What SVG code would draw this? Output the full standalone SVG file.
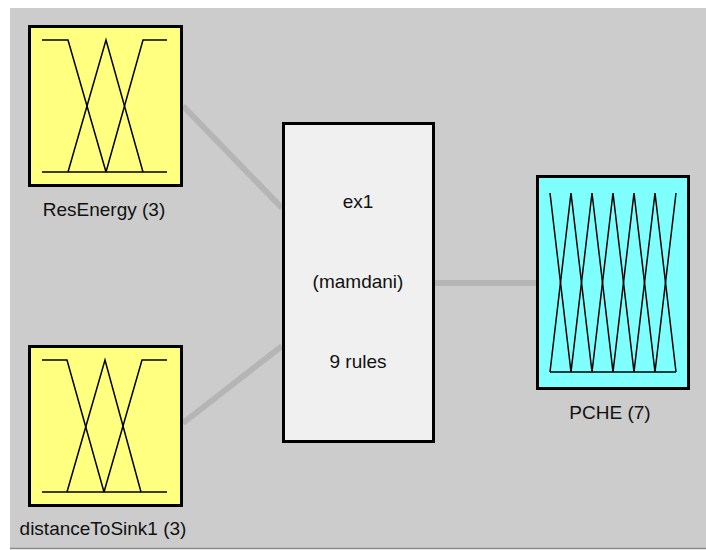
<svg xmlns="http://www.w3.org/2000/svg" width="706" height="550" viewBox="0 0 706 550">
<style>
.lbl{font-family:"Liberation Sans",Arial,sans-serif;font-size:19px;fill:#111;text-anchor:middle}
.box{stroke:#000;stroke-width:3}
.mf{fill:none;stroke:#000;stroke-width:1.5;stroke-linejoin:miter}
.conn{stroke:#b5b5b5;stroke-width:6;fill:none}
</style>
<rect x="0" y="0" width="706" height="550" fill="#ffffff"/>
<rect x="10" y="8" width="696" height="540" fill="#cccccc"/>
<line x1="10" y1="548.5" x2="706" y2="548.5" stroke="#8a8a8a" stroke-width="1.5"/>
<g id="connectors">
<line class="conn" x1="183" y1="106" x2="282" y2="208"/>
<line class="conn" x1="183" y1="423" x2="282" y2="346"/>
<line class="conn" x1="435" y1="283" x2="536" y2="283"/>
</g>
<g id="ResEnergy">
<rect class="box" x="29.5" y="26.5" width="152" height="159" fill="#ffff80"/>
<polyline class="mf" points="42,40 68,40 106,172"/>
<polyline class="mf" points="68,172 106,40 143,172"/>
<polyline class="mf" points="106,172 143,40 167,40"/>
<line class="mf" x1="42" y1="172" x2="167" y2="172"/>
<text class="lbl" x="104" y="216">ResEnergy (3)</text>
</g>
<g id="distanceToSink1">
<rect class="box" x="29.5" y="346.5" width="152" height="159" fill="#ffff80"/>
<polyline class="mf" points="42,360 67,360 104,492"/>
<polyline class="mf" points="67,492 105,360 141,492"/>
<polyline class="mf" points="104,492 142,360 167,360"/>
<line class="mf" x1="42" y1="492" x2="167" y2="492"/>
<text class="lbl" x="103" y="535">distanceToSink1 (3)</text>
</g>
<g id="ex1">
<rect class="box" x="283.5" y="123.5" width="150" height="318" fill="#f0f0f0"/>
<text class="lbl" x="358" y="208">ex1</text>
<text class="lbl" x="358" y="288">(mamdani)</text>
<text class="lbl" x="358" y="368">9 rules</text>
</g>
<g id="PCHE">
<rect class="box" x="537.5" y="176.5" width="151" height="212" fill="#80ffff"/>
<polyline class="mf" points="550,193 571,372 592,193 613,372 634,193 655,372 676,193"/>
<polyline class="mf" points="550,372 571,193 592,372 613,193 634,372 655,193 676,372"/>
<line class="mf" x1="550" y1="372" x2="676" y2="372"/>
<text class="lbl" x="610" y="419">PCHE (7)</text>
</g>
</svg>
